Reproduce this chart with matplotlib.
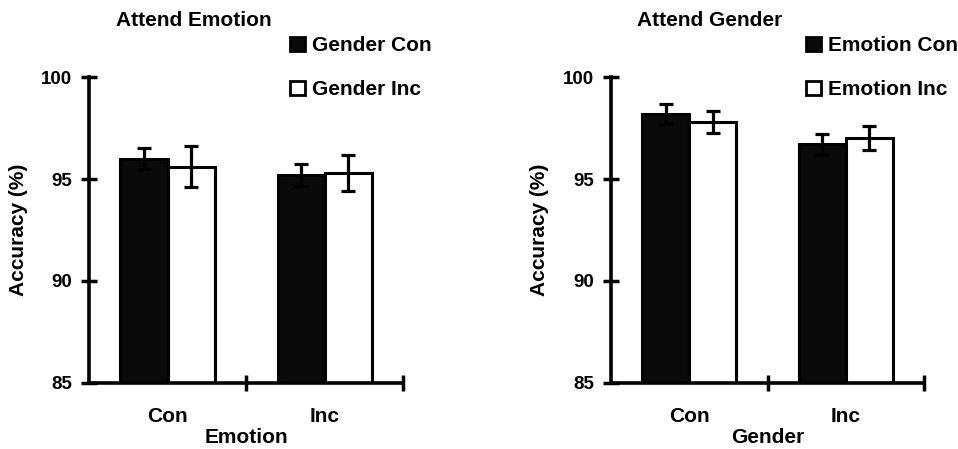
import numpy as np
import matplotlib.pyplot as plt
from matplotlib.patches import Patch

plt.rcParams['font.family'] = ['Liberation Sans', 'DejaVu Sans']
plt.rcParams['font.weight'] = 'bold'

cats = ['Con', 'Inc']

# attend emotion panel
emo_con = [96.0, 95.2]
emo_con_err = [0.5, 0.55]
emo_inc = [95.6, 95.3]
emo_inc_err = [1.0, 0.9]

# attend gender panel
gen_con = [98.2, 96.7]
gen_con_err = [0.5, 0.5]
gen_inc = [97.8, 97.0]
gen_inc_err = [0.55, 0.6]

panels = [
    ('Attend Emotion', 'Emotion', ['Gender Con', 'Gender Inc'], emo_con, emo_con_err, emo_inc, emo_inc_err),
    ('Attend Gender', 'Gender', ['Emotion Con', 'Emotion Inc'], gen_con, gen_con_err, gen_inc, gen_inc_err),
]

fig = plt.figure(figsize=(9.58, 4.49), dpi=100)
axes_pos = [[0.0929, 0.147, 0.328, 0.6815], [0.6378, 0.147, 0.3267, 0.6815]]
title_x = [194 / 958, 710 / 958]
leg_x = [0.3027, 0.8413]
ylab_x = [-0.194, -0.198]

for i, (title, xlab, names, a, ae, b, be) in enumerate(panels):
    ax = fig.add_axes(axes_pos[i])
    x = np.arange(len(cats))
    w = 0.3
    ax.bar(x - w / 2, a, w, color='#0a0a0a', edgecolor='black', linewidth=2.2, zorder=2)
    ax.bar(x + w / 2, b, w, color='white', edgecolor='black', linewidth=2.2, zorder=2)
    ax.errorbar(x - w / 2, a, yerr=ae, fmt='none', ecolor='black', elinewidth=2.3, capsize=4.7, capthick=2.3, zorder=3)
    ax.errorbar(x + w / 2, b, yerr=be, fmt='none', ecolor='black', elinewidth=2.3, capsize=4.7, capthick=2.3, zorder=3)

    ax.set_xlim(-0.5, 1.5)
    ax.set_ylim(85, 100)
    ax.set_yticks([85, 90, 95, 100])
    ax.set_xticks([0.5, 1.5])
    ax.set_xticklabels([])
    ax.set_xticks(x, minor=True)
    ax.set_xticklabels(cats, minor=True)
    ax.tick_params(axis='both', which='major', direction='inout', length=11.5, width=2.5, labelsize=13.5, pad=6.5)
    ax.tick_params(axis='x', which='minor', length=0, labelsize=15, pad=17)
    for s in ['top', 'right']:
        ax.spines[s].set_visible(False)
    for s in ['left', 'bottom']:
        ax.spines[s].set_linewidth(2.6)

    ax.set_ylabel('Accuracy (%)', fontsize=15, fontweight='bold')
    ax.yaxis.set_label_coords(ylab_x[i], 0.5)
    ax.set_xlabel(xlab, fontsize=15, fontweight='bold')
    ax.xaxis.set_label_coords(0.5, -0.147)

    fig.text(title_x[i], 1 - 21 / 449, title, ha='center', va='center', fontsize=15, fontweight='bold')

    handles = [Patch(facecolor='#0a0a0a', edgecolor='black', linewidth=2),
               Patch(facecolor='white', edgecolor='black', linewidth=2)]
    fig.legend(handles, names, loc='upper left', bbox_to_anchor=(leg_x[i], 0.92), frameon=False,
               borderpad=0, borderaxespad=0, handlelength=0.72, handleheight=0.65, handletextpad=0.35,
               labelspacing=1.2, prop={'size': 15, 'weight': 'bold'})

fig.savefig('out.png', dpi=100)
